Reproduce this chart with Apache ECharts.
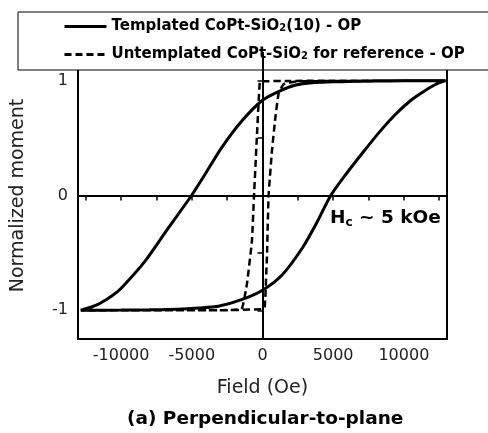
<!DOCTYPE html>
<html>
<head>
<meta charset="utf-8">
<script src="https://cdn.jsdelivr.net/npm/echarts@6/dist/echarts.min.js"></script>
<style>
  html, body { margin: 0; padding: 0; background: #fff; }
  #main { width: 488px; height: 433px; }
</style>
</head>
<body>
<div id="main"></div>
<script>
var chartDom = document.getElementById('main');
var myChart = echarts.init(chartDom);
var option;

// templated sample, loop: descending branch then ascending branch
var tplDownH = [12950, 10000, 8000, 6000, 5000, 3530, 2350, 1170, 0, -1480, -2900, -4070, -5020, -6670, -8320, -9980, -10690, -11670, -12850];
var tplDownM = [1.0, 0.999, 0.997, 0.994, 0.99, 0.983, 0.962, 0.908, 0.83, 0.647, 0.415, 0.183, 0.0, -0.284, -0.574, -0.805, -0.878, -0.95, -1.0];
var tplUpH = [-12850, -10000, -8000, -6000, -4500, -3130, -1480, 0, 1400, 2820, 3760, 4830, 5890, 7070, 8250, 9430, 10500, 11320, 12200, 12950];
var tplUpM = [-1.0, -0.998, -0.995, -0.99, -0.98, -0.965, -0.907, -0.825, -0.69, -0.457, -0.255, 0.0, 0.183, 0.37, 0.55, 0.71, 0.83, 0.9, 0.965, 1.0];

// untemplated reference sample
var refDownH = [12950, 5000, 2000, 0, -190, -390, -600, -750, -1100, -1370, -1500, -3000, -12850];
var refDownM = [1.0, 1.0, 0.998, 0.995, 0.99, 0.53, 0.0, -0.4, -0.77, -0.95, -0.99, -1.0, -1.0];
var refUpH = [-12850, -3000, 0, 150, 200, 320, 430, 670, 910, 1140, 1500, 2500, 12950];
var refUpM = [-1.0, -1.0, -0.99, -0.97, -0.89, -0.51, 0.0, 0.39, 0.68, 0.89, 0.97, 0.995, 1.0];

var xMajorTicks = [-10000, -5000, 0, 5000, 10000];
var xAllTicks = [-12500, -10000, -7500, -5000, -2500, 0, 2500, 5000, 7500, 10000, 12500];
var yMajorTicks = [-1, 0, 1];
var yAllTicks = [-1, -0.5, 0, 0.5, 1];

function loop(h1, m1, h2, m2) {
  var out = [];
  for (var i = 0; i < h1.length; i++) out.push([h1[i], m1[i]]);
  for (var j = 0; j < h2.length; j++) out.push([h2[j], m2[j]]);
  return out;
}

var font = 'DejaVu Sans';

option = {
  animation: false,
  title: {
    text: '(a) Perpendicular-to-plane',
    left: 127,
    top: 410,
    padding: 0,
    textStyle: { fontFamily: font, fontWeight: 'bold', fontSize: 18.5, color: '#000' }
  },
  legend: {
    orient: 'vertical',
    left: 18,
    top: 12,
    padding: [7, 24, 8, 45],
    itemWidth: 42,
    itemHeight: 14,
    itemGap: 13,
    backgroundColor: '#fff',
    borderColor: '#000',
    borderWidth: 1,
    borderRadius: 0,
    itemStyle: { color: 'rgba(0,0,0,0)', borderWidth: 0 },
    lineStyle: { width: 3 },
    formatter: function (name) {
      if (name.indexOf('Untemplated') === 0) {
        return '{b|Untemplated CoPt-SiO}{s|2}{b| for reference - OP}';
      }
      return '{b|Templated CoPt-SiO}{s|2}{b|(10) - OP}';
    },
    textStyle: {
      fontFamily: font,
      fontWeight: 'bold',
      fontSize: 15,
      color: '#000',
      rich: {
        b: { fontFamily: font, fontWeight: 'bold', fontSize: 15, lineHeight: 14, color: '#000' },
        s: { fontFamily: font, fontWeight: 'bold', fontSize: 10, lineHeight: 4, verticalAlign: 'bottom', color: '#000' }
      }
    }
  },
  grid: {
    left: 78,
    right: 41,
    top: 52,
    bottom: 94,
    show: true,
    borderColor: '#000',
    borderWidth: 2,
    outerBoundsMode: 'none'
  },
  xAxis: {
    type: 'value',
    min: -13050,
    max: 13050,
    name: 'Field (Oe)',
    nameLocation: 'middle',
    nameGap: 40,
    nameTextStyle: { fontFamily: font, fontSize: 19, color: '#222' },
    axisLine: { show: true, lineStyle: { color: '#000', width: 2 } },
    axisTick: { show: true, length: 5, lineStyle: { color: '#000', width: 1.5 }, customValues: xAllTicks },
    axisLabel: {
      customValues: xMajorTicks,
      margin: 9,
      fontFamily: font,
      fontSize: 16,
      color: '#222',
      formatter: function (v) { return String(v); }
    },
    splitLine: { show: false }
  },
  yAxis: {
    type: 'value',
    min: -1.25,
    max: 1.25,
    name: 'Normalized moment',
    nameLocation: 'middle',
    nameGap: 50,
    nameTextStyle: { fontFamily: font, fontSize: 19, color: '#222' },
    axisLine: { show: true, lineStyle: { color: '#000', width: 2 } },
    axisTick: { show: true, length: 5, lineStyle: { color: '#000', width: 1.5 }, customValues: yAllTicks },
    axisLabel: {
      customValues: yMajorTicks,
      margin: 10,
      fontFamily: font,
      fontSize: 16,
      color: '#222',
      formatter: function (v) { return String(v); }
    },
    splitLine: { show: false }
  },
  graphic: [
    {
      type: 'text',
      left: 330,
      top: 209,
      z: 10,
      style: {
        text: '{h|H}{c|c}{h| ~ 5 kOe}',
        rich: {
          h: { fontFamily: font, fontWeight: 'bold', fontSize: 18.5, lineHeight: 20, fill: '#000' },
          c: { fontFamily: font, fontWeight: 'bold', fontSize: 12, lineHeight: 8, verticalAlign: 'bottom', fill: '#000' }
        }
      }
    }
  ],
  series: [
    {
      name: 'Templated CoPt-SiO2(10) - OP',
      type: 'line',
      data: loop(tplDownH, tplDownM, tplUpH, tplUpM),
      showSymbol: false,
      symbol: 'none',
      smooth: 0.25,
      lineStyle: { color: '#000', width: 3 },
      itemStyle: { color: '#000' },
      markLine: {
        silent: true,
        symbol: ['none', 'none'],
        label: { show: false },
        lineStyle: { color: '#000', width: 2, type: 'solid' },
        data: [{ yAxis: 0 }, { xAxis: 0 }]
      }
    },
    {
      name: 'Untemplated CoPt-SiO2 for reference - OP',
      type: 'line',
      data: loop(refDownH, refDownM, refUpH, refUpM),
      showSymbol: false,
      symbol: 'none',
      smooth: 0.1,
      lineStyle: { color: '#000', width: 2.5, type: [7, 4] },
      itemStyle: { color: '#000' }
    }
  ]
};

option && myChart.setOption(option);
</script>
</body>
</html>
